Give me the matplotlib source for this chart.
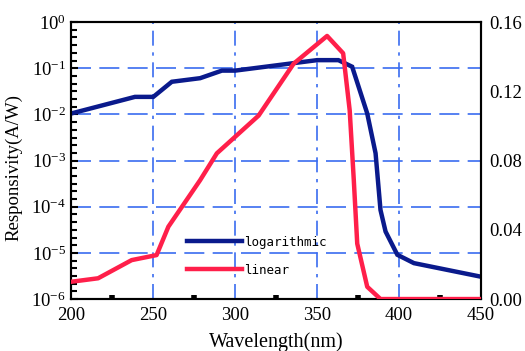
import matplotlib
matplotlib.use("Agg")
import matplotlib.pyplot as plt
import numpy as np
from matplotlib.ticker import FixedLocator, LogFormatterMathtext, FixedFormatter

plt.rcParams['font.family'] = 'Liberation Serif'
plt.rcParams['mathtext.fontset'] = 'custom'
plt.rcParams['mathtext.rm'] = 'Liberation Serif'
plt.rcParams['mathtext.it'] = 'Liberation Serif'

log_wl = [200, 238.8, 250, 261.3, 278.6, 291.9, 300, 350, 363, 371.4, 380.6, 385.7, 388.7, 391.8, 399, 409.1, 449]
log_resp = [0.0105, 0.024, 0.024, 0.051, 0.061, 0.089, 0.089, 0.15, 0.15, 0.108, 0.0105, 0.00144, 8.5e-5, 2.9e-5, 9.1e-6, 6e-6, 3.1e-6]

lin_wl = [200, 216.3, 236.8, 252, 259.2, 278.6, 288.8, 314.3, 335.7, 356.1, 365.9, 369.9, 372.4, 374.5, 380.6, 388.7, 450]
lin_resp = [0.010, 0.012, 0.0225, 0.0254, 0.0418, 0.0687, 0.0842, 0.106, 0.136, 0.152, 0.142, 0.109, 0.0687, 0.032, 0.0071, 0.0, 0.0]

x_ticks = [200, 250, 300, 350, 400, 450]
right_ticks = [0.00, 0.04, 0.08, 0.12, 0.16]
right_labels = ["0.00", "0.04", "0.08", "0.12", "0.16"]

fig = plt.figure(figsize=(5.25, 3.51), dpi=100)
ax = fig.add_axes([0.136, 0.148, 0.780, 0.789])
ax.set_yscale('log')
ax.set_xlim(200, 450)
ax.set_ylim(1e-6, 1)

gcol = '#3a6cf0'
for v in [250, 300, 350, 400]:
    ax.axvline(v, color=gcol, lw=1.2, dashes=(9, 4, 2, 4), zorder=1)
for e in [-1, -2, -3, -4, -5]:
    ax.axhline(10.0**e, color=gcol, lw=1.2, dashes=(12, 5), zorder=1)

ax.plot(log_wl, log_resp, color='#0a1a8c', lw=3.2, solid_joinstyle='miter', zorder=3)

ax.set_xticks(x_ticks)
ax.xaxis.set_minor_locator(FixedLocator([225, 275, 325, 375, 425]))
ax.tick_params(axis='x', which='major', length=0, labelsize=13.5, pad=5.5)
ax.tick_params(axis='x', which='minor', length=3, width=4, direction='in', color='black')
ax.yaxis.set_major_locator(FixedLocator([10.0**e for e in range(-6, 1)]))
ax.yaxis.set_major_formatter(LogFormatterMathtext())
minor = [10.0**(k + j / 6.0) for k in range(-6, 0) for j in range(1, 6)]
ax.yaxis.set_minor_locator(FixedLocator(minor))
ax.yaxis.set_minor_formatter(FixedFormatter([]))
ax.tick_params(axis='y', which='major', length=5, width=1.5, direction='in', labelsize=13.5, pad=4)
ax.tick_params(axis='y', which='minor', length=4, width=1.5, direction='in')
ax.tick_params(axis='y', which='both', right=False)
for s in ax.spines.values():
    s.set_linewidth(1.5)

ax.set_xlabel('Wavelength(nm)', fontsize=14.5, labelpad=6)
ax.set_ylabel('Responsivity(A/W)', fontsize=13.5)
ax.yaxis.set_label_coords(-0.119, 0.475)

ax2 = ax.twinx()
ax2.set_ylim(0, 0.16)
ax2.plot(lin_wl, lin_resp, color='#ff1f4a', lw=3.2, zorder=3)
ax2.set_yticks(right_ticks)
ax2.set_yticklabels(right_labels)
ax2.tick_params(axis='y', length=0, labelsize=13.5, pad=6)
for s in ax2.spines.values():
    s.set_linewidth(1.5)

h1 = plt.Line2D([], [], color='#0a1a8c', lw=3.2)
h2 = plt.Line2D([], [], color='#ff1f4a', lw=3.2)
ax2.legend([h1, h2], ['logarithmic', 'linear'], loc='upper left',
           bbox_to_anchor=(0.255, 0.27), frameon=False, handlelength=4.4,
           handletextpad=0.15, labelspacing=1.2,
           prop={'family': 'DejaVu Sans Mono', 'size': 9})

fig.savefig('out.png', dpi=100)
